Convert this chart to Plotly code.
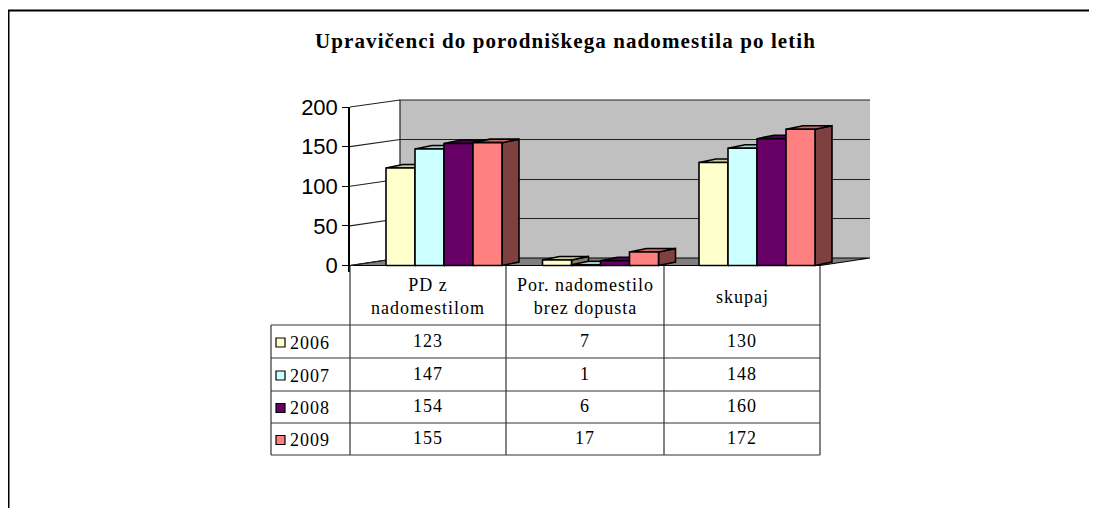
import plotly.graph_objects as go

# ---------------- data ----------------
categories = ["PD z<br>nadomestilom", "Por. nadomestilo<br>brez dopusta", "skupaj"]
years = ["2006", "2007", "2008", "2009"]
v2006 = [123, 7, 130]
v2007 = [147, 1, 148]
v2008 = [154, 6, 160]
v2009 = [155, 17, 172]
series = [v2006, v2007, v2008, v2009]
front_colors = ["#FFFFCC", "#CCFFFF", "#660066", "#FF8080"]
y_ticks = [0, 50, 100, 150, 200]
title = "Upravičenci do porodniškega nadomestila po letih"

# ---------------- geometry helpers ----------------
# figure sits inside the page body (8px margin); map screen pixels -> paper
OX, OY = 8, 8
FW, FH = 1081, 500
def fx(px):
    return (px - OX) / FW
def fy(py):
    return 1 - (py - OY) / FH

def shade(hexc, f):
    h = hexc.lstrip("#")
    r, g, b = int(h[0:2], 16), int(h[2:4], 16), int(h[4:6], 16)
    return "#%02x%02x%02x" % (int(r * f), int(g * f), int(b * f))

def spaced(txt, px):
    return "<span style='letter-spacing:%spx'>%s</span>" % (px, txt)

side_colors = [shade(c, 0.5) for c in front_colors]
top_colors = [shade(c, 0.8) for c in front_colors]

cat_px = 156.5
grp_center0 = 444
front_y0, front_y200 = 265.5, 107
k = (front_y0 - front_y200) / 200.0
bar_w = 29 / cat_px
dx = 17 / cat_px
dy = 3.5 / k

wall_l, wall_r, wall_t, wall_b = 400, 870, 100, 258
bars_l, bars_r = 350, 870
bars_bottom_px = 272

fig = go.Figure()

# ---- wall subplot (x / y): gridlines only ----
fig.update_layout(
    xaxis=dict(domain=[fx(wall_l), fx(wall_r)], range=[0, 1], visible=False, fixedrange=True),
    yaxis=dict(domain=[fy(wall_b), fy(wall_t)], range=[0, 200], tickvals=y_ticks,
               showgrid=True, gridcolor="#222222", gridwidth=1.2, showticklabels=False,
               ticks="", zeroline=False, showline=False, fixedrange=True, automargin=False),
)
fig.add_trace(go.Scatter(x=[0], y=[0], mode="markers", marker=dict(opacity=0),
                         showlegend=False, hoverinfo="skip", xaxis="x", yaxis="y"))

# ---- bars subplot (x2 / y2) ----
ymin = -(bars_bottom_px - front_y0) / k
fig.update_layout(
    xaxis2=dict(domain=[fx(bars_l), fx(bars_r)],
                range=[(bars_l - grp_center0) / cat_px, (bars_r - grp_center0) / cat_px],
                visible=False, fixedrange=True),
    yaxis2=dict(domain=[fy(bars_bottom_px), fy(front_y200)], range=[ymin, 200],
                tickvals=y_ticks, ticktext=[str(t) for t in y_ticks],
                showgrid=False, zeroline=False, showline=True, linecolor="black", linewidth=1.5,
                ticks="outside", ticklen=6, tickcolor="black", tickwidth=1.2,
                tickfont=dict(family="Liberation Sans, Arial, sans-serif", size=22, color="black"),
                anchor="x2", fixedrange=True, automargin=False),
)

for j, vals in enumerate(series):
    fx_, fy_, sx, sy, tx, ty = [], [], [], [], [], []
    for c, v in enumerate(vals):
        xl = c - 2 * bar_w + j * bar_w
        xr = xl + bar_w
        fx_ += [xl, xr, xr, xl, xl, None]
        fy_ += [0, 0, v, v, 0, None]
        sx += [xr, xr + dx, xr + dx, xr, xr, None]
        sy += [0, dy, v + dy, v, 0, None]
        tx += [xl, xr, xr + dx, xl + dx, xl, None]
        ty += [v, v, v + dy, v + dy, v, None]
    for xs, ys, col in ((sx, sy, side_colors[j]), (tx, ty, top_colors[j]), (fx_, fy_, front_colors[j])):
        fig.add_trace(go.Scatter(x=xs, y=ys, mode="lines", fill="toself", fillcolor=col,
                                 line=dict(color="black", width=1.6), showlegend=False,
                                 hoverinfo="skip", xaxis="x2", yaxis="y2"))

shapes = []
shapes.append(dict(type="rect", xref="paper", yref="paper", x0=fx(wall_l), x1=fx(wall_r),
                   y0=fy(wall_b), y1=fy(wall_t), fillcolor="#C0C0C0", line=dict(width=0), layer="below"))
shapes.append(dict(type="path", xref="paper", yref="paper", layer="below",
                   path="M %f %f L %f %f L %f %f" % (fx(wall_l), fy(wall_b), fx(wall_l), fy(wall_t), fx(wall_r), fy(wall_t)),
                   line=dict(color="#222222", width=1.2)))
front_right = 820
shapes.append(dict(type="path", xref="paper", yref="paper", layer="below",
                   path="M %f %f L %f %f L %f %f L %f %f Z" % (
                       fx(bars_l), fy(front_y0), fx(front_right), fy(front_y0),
                       fx(wall_r), fy(wall_b), fx(wall_l), fy(wall_b)),
                   fillcolor="#808080", line=dict(color="black", width=1.2)))
wall_k = (wall_b - wall_t) / 200.0
for t in y_ticks:
    shapes.append(dict(type="line", xref="paper", yref="paper", layer="below",
                       x0=fx(bars_l), y0=fy(front_y0 - t * k), x1=fx(wall_l), y1=fy(wall_b - t * wall_k),
                       line=dict(color="#222222", width=1.2)))

# ---- data table ----
col_x = [350, 506, 664, 820]
tbl_left = 271
hdr_top, hdr_bot = 266, 325
row_y = [325, 358, 391, 423, 455]
tcol = "#333333"
for cx in col_x:
    shapes.append(dict(type="line", xref="paper", yref="paper", x0=fx(cx), x1=fx(cx),
                       y0=fy(hdr_top), y1=fy(row_y[-1]), line=dict(color=tcol, width=1.2)))
shapes.append(dict(type="line", xref="paper", yref="paper", x0=fx(tbl_left), x1=fx(tbl_left),
                   y0=fy(row_y[0]), y1=fy(row_y[-1]), line=dict(color=tcol, width=1.2)))
for ry in row_y:
    shapes.append(dict(type="line", xref="paper", yref="paper", x0=fx(tbl_left), x1=fx(col_x[-1]),
                       y0=fy(ry), y1=fy(ry), line=dict(color=tcol, width=1.2)))
for j in range(len(years)):
    cy = (row_y[j] + row_y[j + 1]) / 2 + 1
    shapes.append(dict(type="rect", xref="paper", yref="paper", x0=fx(276), x1=fx(285),
                       y0=fy(cy + 4.5), y1=fy(cy - 4.5), fillcolor=front_colors[j],
                       line=dict(color="black", width=1.2)))
# outer frame
shapes.append(dict(type="path", xref="paper", yref="paper",
                   path="M %f %f L %f %f L %f %f" % (fx(8.5), fy(530), fx(8.5), fy(10.5), fx(1110), fy(10.5)),
                   line=dict(color="black", width=2)))

serif = "Liberation Serif, Times New Roman, serif"
ann = []
ann.append(dict(text="<b>%s</b>" % spaced(title, 1.1), x=fx(565), y=fy(41), xref="paper", yref="paper",
                showarrow=False, font=dict(family=serif, size=21, color="black"),
                xanchor="center", yanchor="middle"))
for c, name in enumerate(categories):
    lines = "<br>".join(spaced(s, 1) for s in name.split("<br>"))
    ann.append(dict(text=lines, x=fx((col_x[c] + col_x[c + 1]) / 2), y=fy((hdr_top + hdr_bot) / 2 + 1),
                    xref="paper", yref="paper", showarrow=False, align="center",
                    font=dict(family=serif, size=18, color="black"), xanchor="center", yanchor="middle"))
for j, vals in enumerate(series):
    cy = (row_y[j] + row_y[j + 1]) / 2
    ann.append(dict(text=spaced(years[j], 1), x=fx(288), y=fy(cy + 1), xref="paper", yref="paper", showarrow=False,
                    font=dict(family=serif, size=18, color="black"), xanchor="left", yanchor="middle"))
    for c, v in enumerate(vals):
        ann.append(dict(text=spaced(str(v), 1), x=fx((col_x[c] + col_x[c + 1]) / 2), y=fy(cy - 1),
                        xref="paper", yref="paper", showarrow=False,
                        font=dict(family=serif, size=18, color="black"), xanchor="center", yanchor="middle"))

fig.update_layout(
    width=FW, height=FH, autosize=False, margin=dict(l=0, r=0, t=0, b=0, autoexpand=False),
    paper_bgcolor="white", plot_bgcolor="rgba(0,0,0,0)",
    shapes=shapes, annotations=ann, showlegend=False,
)

fig.write_html("out.html", config={"displayModeBar": False, "responsive": False})
